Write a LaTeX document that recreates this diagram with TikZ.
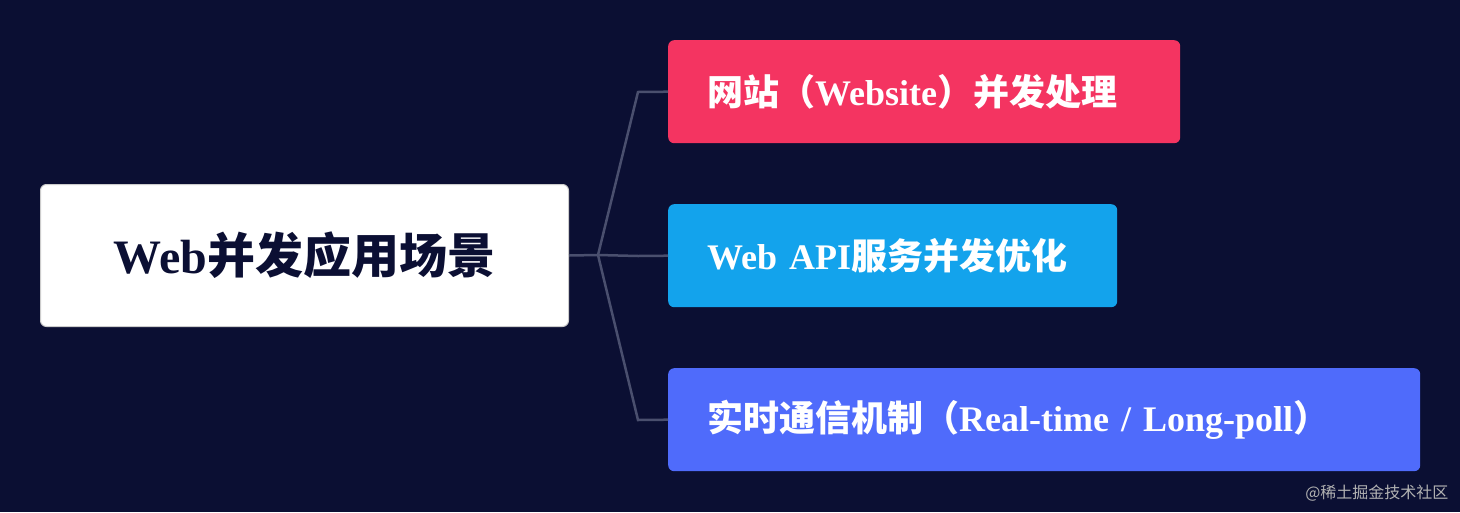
\documentclass[tikz,border=0pt]{standalone}
\usepackage{fontspec}
\setmainfont{Liberation Serif}
\newfontfamily\cjk{Noto Sans CJK SC}
\definecolor{bg}{HTML}{0B0F33}
\definecolor{c1}{HTML}{F43461}
\definecolor{c2}{HTML}{13A3EC}
\definecolor{c3}{HTML}{4F6BFB}
\definecolor{ln}{HTML}{4A4F6E}
\definecolor{rt}{HTML}{0B0F33}
\tikzset{
 child/.style={rounded corners=6pt, anchor=north west, minimum height=103pt, text=white, font=\fontsize{36}{40}\selectfont\bfseries, align=left, inner xsep=39pt},
 conn/.style={ln, line width=2.5pt}
}
\begin{document}
\begin{tikzpicture}[x=1pt,y=-1pt]
\fill[bg] (0,0) rectangle (1460,512);
\useasboundingbox (0,0) rectangle (1460,512);
\node[draw={gray!40}, line width=1pt, fill=white, rounded corners=6pt, minimum width=528pt, minimum height=142pt, anchor=north west, text=rt, font=\fontsize{48}{52}\selectfont\bfseries] (root) at (40,184) {Web{\cjk 并发应用场景}};
\node[child, fill=c1, minimum width=512pt, text width=434pt] (a) at (668,40) {{\cjk 网站（}Website{\cjk ）并发处理}};
\node[child, fill=c2, minimum width=449pt, text width=371pt] (b) at (668,204) {Web API{\cjk 服务并发优化}};
\node[child, fill=c3, minimum width=752pt, text width=674pt] (c) at (668,368) {{\cjk 实时通信机制（}Real-time / Long-poll{\cjk ）}};
\coordinate (j) at (598,255);
\draw[conn] (root.east) -- (j);
\draw[conn] (j) -- (638,92) -- (a.west);
\draw[conn] (j) -- (638,256) -- (b.west);
\draw[conn] (j) -- (638,420) -- (c.west);
\node[anchor=east, text=gray!60, font=\fontsize{16}{18}\selectfont\cjk] (wm) at (1452,493) {@稀土掘金技术社区};
\end{tikzpicture}
\end{document}
